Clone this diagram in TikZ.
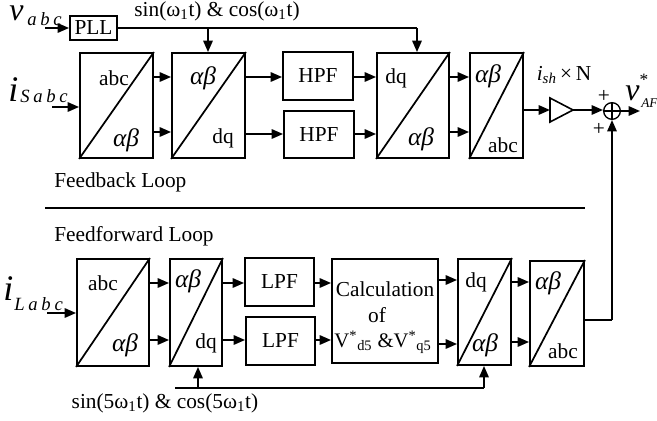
\documentclass[tikz,border=0pt]{standalone}
\usepackage{fontspec}
\setmainfont{Liberation Serif}
\usetikzlibrary{arrows.meta}
\newcommand\bx[5]{\node[blk, minimum width={(#4-#2)*0.75pt}, minimum height={(#5-#3)*0.75pt}] (#1) at ({(#2+#4)/2},{(#3+#5)/2}) {};}
\newcommand\lsp{\hspace{2.8pt}}
\begin{document}
\begin{tikzpicture}[x=0.75pt,y=-0.75pt,
  blk/.style={draw, line width=1.4pt, inner sep=0pt},
  ar/.style={line width=1.4pt, -{Triangle[length=8.5pt,width=7pt]}},
  thinln/.style={line width=0.8pt},
  diag/.style={line width=1.3pt},
  txt/.style={font=\fontsize{16}{18}\selectfont, inner sep=0pt},
  gr/.style={font=\fontsize{19}{21}\selectfont\itshape, inner sep=0pt},
  big/.style={inner sep=0pt, anchor=base west, font=\fontsize{25}{25}\selectfont\itshape},
  sub/.style={inner sep=0pt, anchor=base west, font=\fontsize{14}{14}\selectfont\itshape},
]
\useasboundingbox (0,0) rectangle (657,421);

% ---------- top (feedback) ----------
\bx{PLL}{70}{16}{117}{40}
\node[txt] (pllt) at (PLL) {PLL};
\bx{B1}{80}{53}{153}{158}
\bx{B2}{172}{53}{245}{158}
\bx{H1}{283}{52}{353}{100}
\bx{H2}{284}{111}{354}{158}
\bx{B3}{377}{53}{449}{158}
\bx{B4}{470}{53}{523}{158}
\foreach \b in {B1,B2,B3,B4} \draw[diag] (\b.south west) -- (\b.north east);
\node[txt] (h1t) at (H1) {HPF};
\node[txt] (h2t) at (H2) {HPF};

\node[txt] (b1a) at (114,78) {abc};
\node[gr]  (b1b) at (126,140) {αβ};
\node[gr]  (b2a) at (203,78) {αβ};
\node[txt] (b2b) at (223,138) {dq};
\node[txt] (b3a) at (396,78) {dq};
\node[gr]  (b3b) at (421,139) {αβ};
\node[gr]  (b4a) at (488,76) {αβ};
\node[txt] (b4b) at (503,145) {abc};

% input labels
\node[big, font=\fontsize{24}{24}\selectfont\itshape] (vv) at (9,20) {v};
\node[sub] (vsub) at (27,25) {a\lsp b\lsp c};
\node[big, font=\fontsize{27}{27}\selectfont\itshape] (iv) at (8,101) {i};
\node[sub] (isub) at (20,102) {S\lsp a\lsp b\lsp c};
\coordinate (vin) at (45,28);
\coordinate (iin) at (52,107);
\draw[ar] (vin) -- (PLL.west);
\draw[ar] (iin) -- (iin -| B1.west);

% PLL line
\node[txt] (sincos) at (217,11) {sin(ω\textsubscript{1}t) \& cos(ω\textsubscript{1}t)};
\coordinate (pb) at (208,28);
\coordinate (pj) at (417,28);
\draw[thinln] (PLL.east) -- (pj);
\draw[ar] (pb) -- (pb |- B2.north);
\draw[ar] (pj) -- (pj |- B3.north);

% internal arrows
\coordinate (ya) at (0,77);
\coordinate (yb) at (0,132);
\coordinate (yc) at (0,134);
\draw[ar] (B1.east |- ya) -- (B2.west |- ya);
\draw[ar] (B1.east |- yb) -- (B2.west |- yb);
\draw[ar] (B2.east |- ya) -- (H1.west |- ya);
\draw[ar] (B2.east |- yc) -- (H2.west |- yc);
\draw[ar] (H1.east |- ya) -- (B3.west |- ya);
\draw[ar] (H2.east |- yc) -- (B3.west |- yc);
\draw[ar] (B3.east |- ya) -- (B4.west |- ya);
\draw[ar] (B3.east |- yb) -- (B4.west |- yb);

% gain and sum
\coordinate (g1) at (550,98);
\coordinate (g2) at (573,110);
\coordinate (g3) at (550,122);
\draw[line width=1.2pt] (g1) -- (g2) -- (g3) -- cycle;
\draw[ar] (B4.east |- g2) -- (g1 |- g2);
\node[circle, draw, line width=1pt, minimum size=12.5pt, inner sep=0pt] (sum) at (612,111) {};
\draw[line width=0.8pt] (sum.north) -- (sum.south) (sum.west) -- (sum.east);
\draw[ar] (g2) -- (g2 -| sum.west);
\coordinate (vo) at (640,111);
\draw[ar] (sum.east) -- (vo);
\node[txt] (gain) at (564,75) {\textit{i}\textsubscript{\textit{sh}}\,×\,N};
\node[txt] (p1) at (604,96) {+};
\node[txt] (p2) at (599,129) {+};
\node[big, font=\fontsize{24}{24}\selectfont\itshape] (vaf) at (625,100) {v};
\node[inner sep=0pt, font=\fontsize{13}{13}\selectfont] (vst) at (644,80) {*};
\node[sub, font=\fontsize{10}{10}\selectfont\itshape] (vafs) at (641,107) {AF};

% separator
\node[txt, anchor=west] (fb) at (54,182) {Feedback Loop};
\coordinate (s1) at (45,208);
\coordinate (s2) at (585,208);
\draw[line width=1.3pt] (s1) -- (s2);
\node[txt, anchor=west] (ff) at (54,236) {Feedforward Loop};

% ---------- bottom (feedforward) ----------
\bx{B5}{77}{259}{149}{366}
\bx{B6}{170}{259}{222}{366}
\bx{L1}{245}{258}{314}{306}
\bx{L2}{246}{317}{315}{365}
\bx{C}{332}{259}{438}{363}
\bx{B7}{458}{259}{511}{365}
\bx{B8}{530}{261}{584}{366}
\foreach \b in {B5,B6,B7,B8} \draw[diag] (\b.south west) -- (\b.north east);
\node[txt] (l1t) at (L1) {LPF};
\node[txt] (l2t) at (L2) {LPF};
\node[txt] (c1) at (385,289) {Calculation};
\node[txt] (c2) at (377,315) {of};
\node[txt, font=\fontsize{15.5}{17}\selectfont] (c3) at (383,342) {V\textsuperscript{*}\textsubscript{d5} \&V\textsuperscript{*}\textsubscript{q5}};

\node[txt] (b5a) at (103,283) {abc};
\node[gr]  (b5b) at (125,345) {αβ};
\node[gr]  (b6a) at (188,281) {αβ};
\node[txt] (b6b) at (206,343) {dq};
\node[txt] (b7a) at (476,282) {dq};
\node[gr]  (b7b) at (485,345) {αβ};
\node[gr]  (b8a) at (548,283) {αβ};
\node[txt] (b8b) at (563,351) {abc};

\node[big, font=\fontsize{27}{27}\selectfont\itshape] (il) at (3,300) {i};
\node[sub] (ilsub) at (14,310) {L\lsp a\lsp b\lsp c};
\coordinate (lin) at (47,313);
\draw[ar] (lin) -- (lin -| B5.west);

\coordinate (yd) at (0,283);
\coordinate (ye) at (0,340);
\coordinate (yf) at (0,280);
\coordinate (yg) at (0,344);
\coordinate (yh) at (0,282);
\coordinate (yi) at (0,342);
\draw[ar] (B5.east |- yd) -- (B6.west |- yd);
\draw[ar] (B5.east |- ye) -- (B6.west |- ye);
\draw[ar] (B6.east |- yd) -- (L1.west |- yd);
\draw[ar] (B6.east |- ye) -- (L2.west |- ye);
\draw[ar] (L1.east |- yd) -- (C.west |- yd);
\draw[ar] (L2.east |- ye) -- (C.west |- ye);
\draw[ar] (C.east |- yf) -- (B7.west |- yf);
\draw[ar] (C.east |- yg) -- (B7.west |- yg);
\draw[ar] (B7.east |- yh) -- (B8.west |- yh);
\draw[ar] (B7.east |- yi) -- (B8.west |- yi);

% bottom reference
\coordinate (fl) at (175,388);
\coordinate (fm) at (198,388);
\coordinate (fr) at (484,388);
\draw[thinln] (fl) -- (fr);
\draw[ar] (fm) -- (fm |- B6.south);
\draw[ar] (fr) -- (fr |- B7.south);
\node[txt] (sincos5) at (165,403) {sin(5ω\textsubscript{1}t) \& cos(5ω\textsubscript{1}t)};

% feedforward output to sum
\coordinate (oc) at (612,320);
\draw[thinln] (B8.east |- oc) -- (oc);
\draw[ar] (oc) -- (sum.south);
\end{tikzpicture}
\end{document}
